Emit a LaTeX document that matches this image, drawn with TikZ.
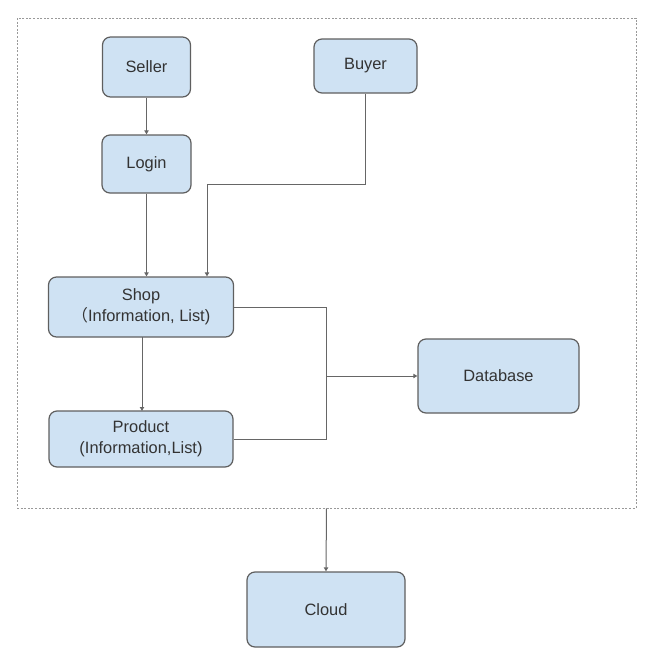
\documentclass[tikz,border=0pt]{standalone}
\usepackage{fontspec}
\setmainfont{Liberation Sans}
\newfontfamily\cjk{Noto Sans CJK SC}
\usetikzlibrary{arrows.meta,positioning}
\definecolor{boxfill}{HTML}{CFE2F3}
\definecolor{boxline}{HTML}{5F5F5F}
\definecolor{conn}{HTML}{666666}
\definecolor{txt}{HTML}{333333}
\tikzset{
  blk/.style={draw=boxline, line width=0.9pt, fill=boxfill, rounded corners=6pt,
    align=center, text=txt, font=\fontsize{12.3}{15.75}\selectfont, inner sep=0pt},
  conn/.style={draw=conn, line width=0.75pt, -{Triangle[width=3.2pt,length=3pt]}},
  plain/.style={draw=conn, line width=0.75pt},
  frm/.style={draw=gray!80, line width=0.6pt, dash pattern=on 1.5pt off 1.2pt, inner sep=0pt}
}
\begin{document}
\begin{tikzpicture}[x=0.75pt,y=-0.75pt]
\useasboundingbox (0,0) rectangle (652,662);
\node[frm, minimum width=464.25pt, minimum height=367.5pt] (frame) at (326.5,263) {};
\node[blk, minimum width=66pt, minimum height=45pt] (seller) at (146.5,67) {Seller};
\node[blk, minimum width=77.25pt, minimum height=40.5pt] (buyer) at (365.5,66) {Buyer};
\node[blk, minimum width=66.75pt, minimum height=43.5pt] (login) at (146.5,164) {Login};
\node[blk, minimum width=138.75pt, minimum height=45pt] (shop) at (141,307) {Shop\\{\cjk （}Information, List)};
\node[blk, minimum width=138pt, minimum height=42pt] (product) at (141,439) {Product\\(Information,List)};
\node[blk, minimum width=120.75pt, minimum height=55.5pt] (db) at (498.5,376) {Database};
\node[blk, minimum width=118.5pt, minimum height=56.25pt] (cloud) at (326,609.5) {Cloud};
\coordinate (bturn) at (365.5,184);
\coordinate (bdrop) at (207,184);
\coordinate (junc) at (326,376);
\draw[conn] (seller.south) -- (login.north);
\draw[conn] (login.south) -- (login.south |- shop.north);
\draw[conn] (buyer.south) -- (bturn) -- (bdrop) -- (bdrop |- shop.north);
\draw[conn] (142,337) -- (142,411);
\draw[plain] (shop.east) -| (junc);
\draw[plain] (product.east) -| (junc);
\draw[conn] (junc) -- (db.west);
\draw[conn] (frame.south) -- (cloud.north);
\end{tikzpicture}
\end{document}
